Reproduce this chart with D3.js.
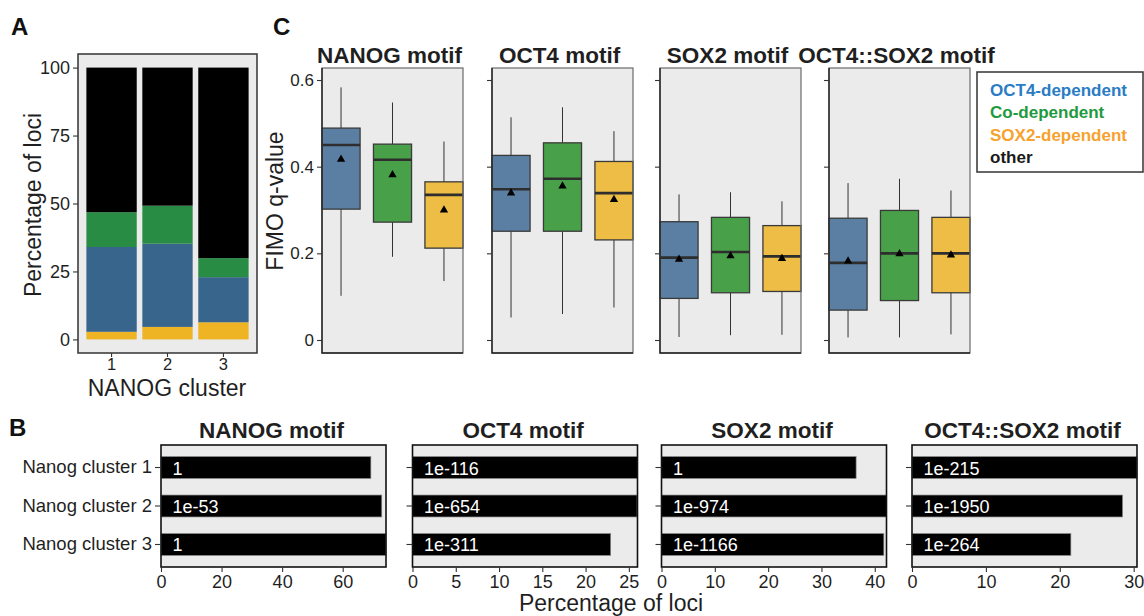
<!DOCTYPE html>
<html><head><meta charset="utf-8">
<script src="https://cdn.jsdelivr.net/npm/d3@7"></script>
<style>
html,body{margin:0;padding:0;background:#fff;}
svg{display:block;font-family:"Liberation Sans",Arial,Helvetica,sans-serif;}
</style></head>
<body><svg id="c" width="1144" height="616"></svg>
<script>
// ---------- DATA ----------
// Panel A: stacked percentage of loci per NANOG cluster
const clusters = ["1", "2", "3"];
const stackKeys = ["SOX2-dependent", "OCT4-dependent", "Co-dependent", "other"]; // bottom -> top
const pctSOX2dep = [2.8, 4.6, 6.3];
const pctOCT4dep = [31.2, 30.6, 16.6];
const pctCodep   = [12.8, 14.0, 7.0];
const pctOther   = [53.2, 50.8, 70.1];
const yTicksA = [0, 25, 50, 75, 100];

// Panel C: FIMO q-value boxplots [motif][group]
const motifs = ["NANOG motif", "OCT4 motif", "SOX2 motif", "OCT4::SOX2 motif"];
const depGroups = ["OCT4-dependent", "Co-dependent", "SOX2-dependent"];
const whiskerLow  = [[0.102, 0.192, 0.136], [0.052, 0.060, 0.075], [0.007, 0.011, 0.012], [0.006, 0.006, 0.013]];
const q1          = [[0.302, 0.272, 0.212], [0.251, 0.251, 0.231], [0.096, 0.109, 0.112], [0.069, 0.091, 0.109]];
const median      = [[0.450, 0.416, 0.335], [0.348, 0.372, 0.339], [0.190, 0.203, 0.193], [0.178, 0.200, 0.200]];
const q3          = [[0.489, 0.452, 0.365], [0.426, 0.455, 0.412], [0.273, 0.283, 0.264], [0.281, 0.299, 0.283]];
const whiskerHigh = [[0.583, 0.548, 0.458], [0.514, 0.537, 0.482], [0.336, 0.341, 0.320], [0.362, 0.372, 0.345]];
const meanVal     = [[0.417, 0.381, 0.300], [0.339, 0.355, 0.324], [0.186, 0.194, 0.188], [0.182, 0.199, 0.196]];
const yTicksC = [0, 0.2, 0.4, 0.6];

// Panel B: percentage of loci with motif, with p-value labels [motif][cluster]
const clusterLabels = ["Nanog cluster 1", "Nanog cluster 2", "Nanog cluster 3"];
const pctLoci = [[69.3, 72.9, 74.3], [26.0, 25.95, 22.9], [36.5, 42.2, 41.7], [30.45, 28.5, 21.5]];
const pLabels = [["1", "1e-53", "1"], ["1e-116", "1e-654", "1e-311"], ["1", "1e-974", "1e-1166"], ["1e-215", "1e-1950", "1e-264"]];
const xTicksB = [[0, 20, 40, 60], [0, 5, 10, 15, 20, 25], [0, 10, 20, 30, 40], [0, 10, 20, 30]];

// ---------- STYLE ----------
const colA = {"SOX2-dependent": "#eeb424", "OCT4-dependent": "#37658c", "Co-dependent": "#288c45", "other": "#000000"};
const colC = ["#5a7fa2", "#48a049", "#edbd46"];
const legendColors = ["#2a7cc4", "#1f9a40", "#f7a12e", "#1a1a1a"];
const legendLabels = ["OCT4-dependent", "Co-dependent", "SOX2-dependent", "other"];
const panelBg = "#ebebeb";
const txt = "#1f1f1f";

const svg = d3.select("#c");

function styleAxis(g, fs) {
  g.select(".domain").remove();
  g.selectAll(".tick line").attr("stroke", "#333").attr("stroke-width", 1.1);
  g.selectAll(".tick text").attr("fill", txt).attr("font-size", fs);
}

// ---------- PANEL LETTERS ----------
[["A", 11, 35], ["B", 9, 436], ["C", 273, 35]].forEach(([t, x, y]) =>
  svg.append("text").attr("x", x).attr("y", y).attr("font-size", 24).attr("font-weight", "bold").attr("fill", "#111").text(t));

// ---------- PANEL A ----------
{
  const x = d3.scaleBand().domain(clusters).range([78, 257]).paddingInner(0.1).paddingOuter(0.15);
  const y = d3.scaleLinear().domain([-5, 105]).range([353, 54]);
  const rows = clusters.map((c, i) => ({cluster: c, "SOX2-dependent": pctSOX2dep[i], "OCT4-dependent": pctOCT4dep[i], "Co-dependent": pctCodep[i], "other": pctOther[i]}));
  const series = d3.stack().keys(stackKeys)(rows);
  svg.append("rect").attr("x", 78).attr("y", 54).attr("width", 179).attr("height", 299).attr("fill", panelBg);
  const g = svg.append("g");
  series.forEach(s => {
    g.selectAll(null).data(s).join("rect")
      .attr("x", d => x(d.data.cluster)).attr("width", x.bandwidth())
      .attr("y", d => y(d[1])).attr("height", d => y(d[0]) - y(d[1]))
      .attr("fill", colA[s.key]);
  });
  svg.append("rect").attr("x", 78).attr("y", 54).attr("width", 179).attr("height", 299).attr("fill", "none").attr("stroke", "#333").attr("stroke-width", 1.5);
  const ya = svg.append("g").attr("transform", "translate(78,0)").call(d3.axisLeft(y).tickValues(yTicksA).tickSize(5).tickPadding(3));
  styleAxis(ya, 18);
  const xa = svg.append("g").attr("transform", "translate(0,353)").call(d3.axisBottom(x).tickSize(4).tickPadding(1));
  styleAxis(xa, 16.5);
  svg.append("text").attr("x", 167).attr("y", 396).attr("text-anchor", "middle").attr("font-size", 23).attr("fill", txt).text("NANOG cluster");
  svg.append("text").attr("transform", "translate(41,205) rotate(-90)").attr("text-anchor", "middle").attr("font-size", 23).attr("fill", txt).text("Percentage of loci");
}

// ---------- PANEL C ----------
{
  const lefts = [322, 492, 660, 829];
  const pw = 141, top = 68, bot = 353;
  const y = d3.scaleLinear().domain([-0.03, 0.6277]).range([bot, top]);
  motifs.forEach((m, mi) => {
    const L = lefts[mi];
    const x = d3.scaleBand().domain(depGroups).range([L, L + pw]).paddingInner(0.26).paddingOuter(0);
    svg.append("rect").attr("x", L).attr("y", top).attr("width", pw).attr("height", bot - top).attr("fill", panelBg);
    const g = svg.append("g");
    depGroups.forEach((grp, gi) => {
      const cx = x(grp) + x.bandwidth() / 2;
      g.append("line").attr("x1", cx).attr("x2", cx).attr("y1", y(whiskerHigh[mi][gi])).attr("y2", y(q3[mi][gi])).attr("stroke", "#333").attr("stroke-width", 1);
      g.append("line").attr("x1", cx).attr("x2", cx).attr("y1", y(q1[mi][gi])).attr("y2", y(whiskerLow[mi][gi])).attr("stroke", "#333").attr("stroke-width", 1);
      g.append("rect").attr("x", x(grp)).attr("width", x.bandwidth())
        .attr("y", y(q3[mi][gi])).attr("height", y(q1[mi][gi]) - y(q3[mi][gi]))
        .attr("fill", colC[gi]).attr("stroke", "#3a3a3a").attr("stroke-width", 1.3);
      g.append("line").attr("x1", x(grp)).attr("x2", x(grp) + x.bandwidth()).attr("y1", y(median[mi][gi])).attr("y2", y(median[mi][gi])).attr("stroke", "#2e2e2e").attr("stroke-width", 2.6);
      g.append("path").attr("d", d3.symbol(d3.symbolTriangle, 30)()).attr("transform", `translate(${cx},${y(meanVal[mi][gi])})`).attr("fill", "#000");
    });
    // frame
    svg.append("rect").attr("x", L).attr("y", top).attr("width", pw).attr("height", bot - top).attr("fill", "none").attr("stroke", "#6a6a6a").attr("stroke-width", 1.2);
    svg.append("path").attr("d", `M${L},${top}V${bot}H${L + pw}`).attr("fill", "none").attr("stroke", "#222").attr("stroke-width", 1.4);
    const ax = d3.axisLeft(y).tickValues(yTicksC).tickSize(5).tickPadding(3)
      .tickFormat(mi === 0 ? (d => d === 0 ? "0" : d3.format(".1f")(d)) : () => "");
    const ya = svg.append("g").attr("transform", `translate(${L},0)`).call(ax);
    styleAxis(ya, 17);
    svg.append("text").attr("x", L + pw / 2 - 3).attr("y", 63).attr("text-anchor", "middle").attr("font-size", 22.5).attr("font-weight", "bold").attr("fill", txt).text(m);
  });
  svg.append("text").attr("transform", "translate(283,201) rotate(-90)").attr("text-anchor", "middle").attr("font-size", 23).attr("fill", txt).text("FIMO q-value");
  // legend
  svg.append("rect").attr("x", 977).attr("y", 72).attr("width", 166).attr("height", 100).attr("fill", "#fff").attr("stroke", "#333").attr("stroke-width", 1.5);
  legendLabels.forEach((t, i) =>
    svg.append("text").attr("x", 990).attr("y", 96 + i * 22.3).attr("font-size", 17).attr("font-weight", "bold").attr("fill", legendColors[i]).text(t));
}

// ---------- PANEL B ----------
{
  const lefts = [161, 412.5, 661.5, 912];
  const pw = 225, top = 445, bot = 567;
  const y = d3.scaleBand().domain(clusterLabels).range([top, bot]).paddingInner(0.43).paddingOuter(0.3);
  motifs.forEach((m, mi) => {
    const L = lefts[mi];
    const x = d3.scaleLinear().domain([0, d3.max(pctLoci[mi])]).range([L, L + pw]);
    svg.append("rect").attr("x", L).attr("y", top).attr("width", pw).attr("height", bot - top).attr("fill", panelBg);
    const g = svg.append("g");
    clusterLabels.forEach((c, ci) => {
      g.append("rect").attr("x", x(0)).attr("y", y(c)).attr("width", x(pctLoci[mi][ci]) - x(0)).attr("height", y.bandwidth())
        .attr("fill", "#000").attr("stroke", "#8a8a8a").attr("stroke-width", 0.7);
      g.append("text").attr("x", x(0) + 11.5).attr("y", y(c) + y.bandwidth() / 2 + 7).attr("font-size", 18).attr("fill", "#fff").text(pLabels[mi][ci]);
    });
    svg.append("rect").attr("x", L).attr("y", top).attr("width", pw).attr("height", bot - top).attr("fill", "none").attr("stroke", "#111").attr("stroke-width", 1.6);
    const ya = svg.append("g").attr("transform", `translate(${L},0)`).call(d3.axisLeft(y).tickSize(6).tickPadding(3).tickFormat(mi === 0 ? (d => d) : () => ""));
    styleAxis(ya, 18.5);
    const xa = svg.append("g").attr("transform", `translate(0,${bot})`).call(d3.axisBottom(x).tickValues(xTicksB[mi]).tickSize(5).tickPadding(3));
    styleAxis(xa, 18);
    svg.append("text").attr("x", L + pw / 2 - 2).attr("y", 438).attr("text-anchor", "middle").attr("font-size", 22.5).attr("font-weight", "bold").attr("fill", txt).text(m);
  });
  svg.append("text").attr("x", 611).attr("y", 611).attr("text-anchor", "middle").attr("font-size", 23).attr("fill", txt).text("Percentage of loci");
}
</script></body></html>
